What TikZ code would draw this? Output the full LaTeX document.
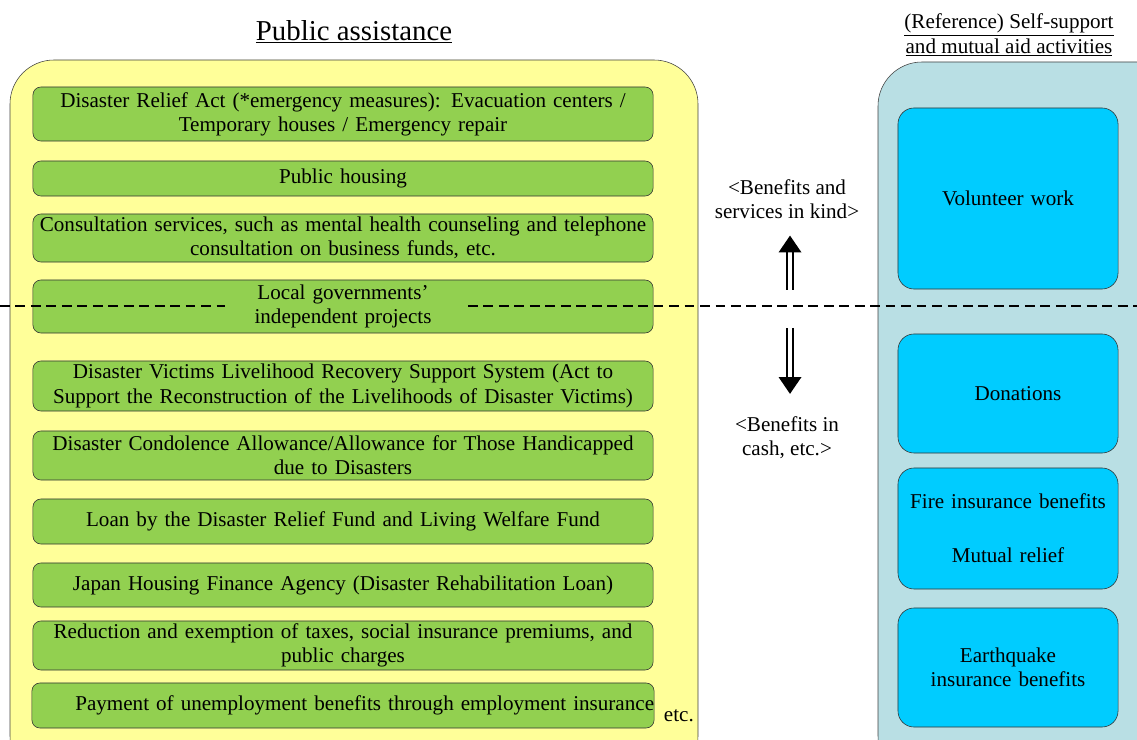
\documentclass[tikz,border=0pt]{standalone}
\usepackage{fontspec}
\setmainfont{Liberation Serif}
\usetikzlibrary{arrows.meta}

\definecolor{panelyellow}{HTML}{FFFF99}
\definecolor{boxgreen}{HTML}{92D050}
\definecolor{panelblue}{HTML}{B9DFE4}
\definecolor{boxcyan}{HTML}{00CCFF}

\begin{document}
\begin{tikzpicture}[
        x=0.025cm, y=-0.025cm,
        font=\fontsize{15}{17.2}\selectfont,
        panel/.style={
            draw=black!75,
            rounded corners=1.1cm
        },
        greenbox/.style={
            draw=black!80,
            fill=boxgreen,
            rounded corners=0.2cm,
            minimum width=15.5cm,
            text width=15.4cm,
            inner sep=0pt,
            align=center
        },
        cyanbox/.style={
            draw=black!80,
            fill=boxcyan,
            rounded corners=0.4cm,
            minimum width=5.5cm,
            text width=5.4cm,
            inner sep=0pt,
            align=center
        },
        bigarrow/.style={
            double,
            double distance=2.6pt,
            line width=1.5pt,
            -{Triangle[length=12pt,width=16pt]}
        }
    ]

    % page = reference size in px
    \useasboundingbox (0,0) rectangle (1137,740);

    % --- panels ---
    \draw[panel, fill=panelyellow] (10,60) rectangle (698,780);
    \draw[panel, fill=panelblue] (878,62) rectangle (1180,780);

    % --- titles ---
    \node (pubtitle) at (354,32) {\fontsize{20.5}{24}\selectfont\underline{Public assistance}};
    \node[align=center] (reftitle) at (1009,35)
        {\underline{(Reference) Self-support}\\\underline{and mutual aid activities}};

    % (index, y centre, height, text)
    \def\greendata{
        1/114/1.35/{Disaster Relief Act (*emergency measures): Evacuation centers /\\Temporary houses / Emergency repair},
        2/178.5/0.875/{Public housing},
        3/238/1.2/{Consultation services, such as mental health counseling and telephone\\consultation on business funds, etc.},
        4/306.5/1.325/{Local governments'\\independent projects},
        5/386/1.25/{Disaster Victims Livelihood Recovery Support System (Act to\\Support the Reconstruction of the Livelihoods of Disaster Victims)},
        6/455.5/1.225/{Disaster Condolence Allowance/Allowance for Those Handicapped\\due to Disasters},
        7/521.5/1.125/{Loan by the Disaster Relief Fund and Living Welfare Fund},
        8/585/1.1/{Japan Housing Finance Agency (Disaster Rehabilitation Loan)},
        9/645.5/1.225/{Reduction and exemption of taxes, social insurance premiums, and\\public charges}}

    % green boxes
    \foreach \i/\y/\h/\txt in \greendata {
        \node[greenbox, minimum height=\h cm] (g\i) at (343,\y) {\txt};
    }
    \node[greenbox, minimum height=1.125cm, text width=15.55cm, align=right] (g10) at (343,705.5)
        {Payment of unemployment benefits through employment insurance};
    \node[anchor=west] (etc) at (659,716) {etc.};

    % cyan boxes
    \node[cyanbox, minimum height=4.525cm] (volunteer) at (1008,198.5) {Volunteer work};
    \node[cyanbox, minimum height=2.975cm] (donations) at (1008,393.5) {\hspace*{0.5cm}Donations};
    \node[cyanbox, minimum height=3.025cm] (insurance) at (1008,528.5)
        {Fire insurance benefits\\[0.75cm]Mutual relief};
    \node[cyanbox, minimum height=2.975cm] (quake) at (1008,667.5)
        {Earthquake\\insurance benefits};

    % --- dashed border between kinds of benefit ---
    \coordinate (dashL) at (0,306);
    \coordinate (dashR) at (1137,306);
    \draw[line width=2pt, dash pattern=on 7pt off 4pt] (dashL) -- (225,306);
    \draw[line width=2pt, dash pattern=on 7pt off 4pt] (468,306) -- (dashR);

    % --- benefit labels and arrows ---
    \node[align=center] (kind) at (787,199) {<Benefits and\\services in kind>};
    \node[align=center] (cash) at (787,438) {<Benefits in\\cash, etc.>};
    \coordinate (upfoot) at (790,290);
    \coordinate (downfoot) at (790,328);
    \draw[bigarrow] (upfoot) -- ([yshift=-0.3cm]kind.south -| upfoot);
    \draw[bigarrow] (downfoot) -- ([yshift=0.45cm]cash.north -| downfoot);

\end{tikzpicture}
\end{document}
